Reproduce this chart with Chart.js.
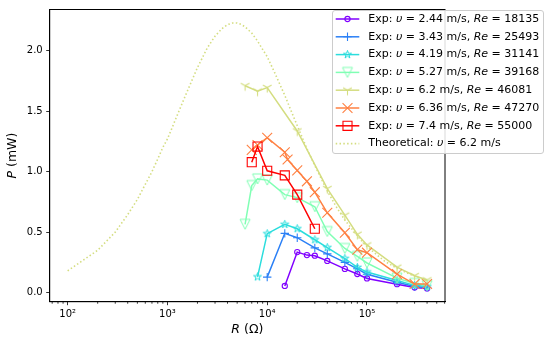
<!DOCTYPE html>
<html><head><meta charset="utf-8">
<script src="https://cdn.jsdelivr.net/npm/chart.js@4/dist/chart.umd.min.js"></script>
<style>html,body{margin:0;padding:0;background:#fff}#wrap{position:relative;width:550px;height:342px}</style>
</head><body><div id="wrap"><canvas id="c" width="550" height="342"></canvas></div>
<script>
// ---------- data ----------
const velocities = ["2.44", "3.43", "4.19", "5.27", "6.2", "6.36", "7.4"];
const reynolds = ["18135", "25493", "31141", "39168", "46081", "47270", "55000"];
const theoVelocity = "6.2";

const R_244 = [15000, 20000, 25000, 30000, 40000, 60000, 80000, 100000, 200000, 300000, 400000];
const P_244 = [0.055, 0.335, 0.31, 0.305, 0.262, 0.196, 0.154, 0.117, 0.07, 0.042, 0.035];

const R_343 = [10000, 15000, 20000, 30000, 40000, 60000, 80000, 100000, 200000, 300000, 400000];
const P_343 = [0.128, 0.49, 0.454, 0.37, 0.32, 0.25, 0.197, 0.152, 0.085, 0.05, 0.043];

const R_419 = [8000, 10000, 15000, 20000, 30000, 40000, 60000, 80000, 100000, 200000, 300000, 400000];
const P_419 = [0.13, 0.487, 0.564, 0.528, 0.437, 0.372, 0.282, 0.208, 0.17, 0.1, 0.06, 0.05];

const R_527 = [6000, 7000, 8000, 10000, 15000, 20000, 30000, 40000, 60000, 80000, 100000, 200000, 300000, 400000];
const P_527 = [0.565, 0.885, 0.94, 0.93, 0.81, 0.785, 0.71, 0.505, 0.365, 0.30, 0.245, 0.12, 0.076, 0.058];

const R_620 = [6000, 8000, 10000, 20000, 40000, 60000, 80000, 100000, 200000, 300000, 400000];
const P_620 = [1.71, 1.665, 1.695, 1.336, 0.86, 0.64, 0.482, 0.394, 0.21, 0.14, 0.105];

const R_636 = [7000, 8000, 10000, 15000, 16000, 20000, 25000, 30000, 40000, 60000, 80000, 100000, 200000, 300000, 400000];
const P_636 = [1.18, 1.22, 1.28, 1.16, 1.10, 1.01, 0.92, 0.83, 0.66, 0.495, 0.355, 0.33, 0.153, 0.071, 0.071];

const R_740 = [7000, 8000, 10000, 15000, 20000, 30000];
const P_740 = [1.078, 1.207, 1.007, 0.969, 0.81, 0.528];

const R_theo = [100, 200, 300, 400, 500, 600, 700, 800, 900, 1000, 1500, 2000, 2500, 3000, 3500, 4000, 4500, 5000, 5500, 6000, 7000, 8000, 9000, 10000, 12000, 15000, 20000, 25000, 30000, 40000, 50000, 60000, 70000, 80000, 90000, 100000, 150000, 200000, 300000, 400000];
const P_theo = [0.18, 0.35, 0.50, 0.645, 0.77, 0.895, 1.0, 1.105, 1.2, 1.27, 1.62, 1.86, 2.02, 2.12, 2.18, 2.215, 2.228, 2.228, 2.216, 2.197, 2.145, 2.08, 2.01, 1.95, 1.81, 1.63, 1.38, 1.19, 1.05, 0.84, 0.70, 0.60, 0.53, 0.47, 0.42, 0.38, 0.26, 0.20, 0.135, 0.10];

const yTickValues = [0, 0.5, 1.0, 1.5, 2.0];
const yTickLabels = ["0.0", "0.5", "1.0", "1.5", "2.0"];
const xMajorValues = [100, 1000, 10000, 100000];
const xMajorLabels = ["10\u00B2", "10\u00B3", "10\u2074", "10\u2075"];
const xLabelText = ["R", " (\u03A9)"];
const yLabelText = ["P", " (mW)"];

// ---------- styles ----------
const colors = ["#8000ff", "#2b80f6", "#2bdddd", "#80ffb4", "#d4dd80", "#ff8042", "#ff0000"];
const theoColor = "#d4dd80";
const FONT = "'DejaVu Sans', 'Liberation Sans', sans-serif";

function mk(size, draw) {
  const c = document.createElement('canvas');
  c.width = size; c.height = size;
  const g = c.getContext('2d');
  draw(g, size / 2);
  return c;
}
function starCanvas(color) {
  return mk(11, (g, c) => {
    g.strokeStyle = color; g.lineWidth = 1; g.lineJoin = 'miter';
    const ro = 4.2, ri = ro * 0.382;
    g.beginPath();
    for (let k = 0; k < 10; k++) {
      const r = k % 2 ? ri : ro;
      const a = -Math.PI / 2 + k * Math.PI / 5;
      const px = c + r * Math.cos(a), py = c + r * Math.sin(a);
      k ? g.lineTo(px, py) : g.moveTo(px, py);
    }
    g.closePath(); g.stroke();
  });
}
function triDownCanvas(color) {
  return mk(13, (g, c) => {
    g.strokeStyle = color; g.lineWidth = 1.1;
    const r = 5;
    g.beginPath();
    g.moveTo(c, c); g.lineTo(c, c + r);
    g.moveTo(c, c); g.lineTo(c - r * 0.866, c - r * 0.5);
    g.moveTo(c, c); g.lineTo(c + r * 0.866, c - r * 0.5);
    g.stroke();
  });
}
function triangleDownCanvas(color) {
  return mk(14, (g, c) => {
    g.strokeStyle = color; g.lineWidth = 1;
    const r = 5;
    g.beginPath();
    g.moveTo(c - r, c - r); g.lineTo(c + r, c - r); g.lineTo(c, c + r); g.closePath();
    g.stroke();
  });
}

const markerSpecs = [
  {style: 'circle', radius: 2.6},
  {style: 'cross', radius: 4.2},
  {style: starCanvas(colors[2]), radius: 4},
  {style: triangleDownCanvas(colors[3]), radius: 5},
  {style: triDownCanvas(colors[4]), radius: 5},
  {style: 'crossRot', radius: 7},
  {style: 'rect', radius: 6.4}
];

const seriesR = [R_244, R_343, R_419, R_527, R_620, R_636, R_740];
const seriesP = [P_244, P_343, P_419, P_527, P_620, P_636, P_740];

const datasets = seriesR.map((Rs, i) => ({
  label: 'Exp: \u03C5 = ' + velocities[i] + ' m/s, Re = ' + reynolds[i],
  data: Rs.map((r, j) => ({x: r, y: seriesP[i][j]})),
  borderColor: colors[i],
  backgroundColor: 'rgba(0,0,0,0)',
  borderWidth: 1.5,
  pointStyle: markerSpecs[i].style,
  pointRadius: markerSpecs[i].radius,
  pointBorderWidth: 1.1,
  pointBorderColor: colors[i],
  pointBackgroundColor: 'rgba(0,0,0,0)',
  order: 20 - i,
  segText: [['Exp: ', false], ['\u03C5', true], [' = ' + velocities[i] + ' m/s, ', false], ['Re', true], [' = ' + reynolds[i], false]]
}));
datasets.push({
  label: 'Theoretical: \u03C5 = ' + theoVelocity + ' m/s',
  data: R_theo.map((r, j) => ({x: r, y: P_theo[j]})),
  borderColor: theoColor,
  backgroundColor: 'rgba(0,0,0,0)',
  borderWidth: 1.6,
  borderDash: [1.5, 2.3],
  pointRadius: 0,
  order: 1,
  segText: [['Theoretical: ', false], ['\u03C5', true], [' = ' + theoVelocity + ' m/s', false]]
});

// x ticks: majors plus minors 2..9 x 10^n
const xMin = 66.1, xMax = 6.05e5;
const xTicks = [];
for (let e = 1; e <= 5; e++) {
  for (let m = 1; m <= 9; m++) {
    const v = m * Math.pow(10, e);
    if (v >= xMin && v <= xMax) xTicks.push(v);
  }
}
function isMajor(v) { return xMajorValues.some(m => Math.abs(m - v) < 1e-6 * m); }

// ---------- plugins ----------
const framePlugin = {
  id: 'frame',
  afterDraw(chart) {
    const {ctx, chartArea: a, scales} = chart;
    ctx.save();
    ctx.strokeStyle = '#000'; ctx.lineWidth = 0.8;
    ctx.beginPath();
    xTicks.forEach(v => {
      if (isMajor(v)) return;
      const px = scales.x.getPixelForValue(v);
      ctx.moveTo(px, a.bottom); ctx.lineTo(px, a.bottom + 2);
    });
    ctx.stroke();
    ctx.lineWidth = 1; ctx.strokeStyle = '#000';
    ctx.strokeRect(a.left, a.top, a.right - a.left, a.bottom - a.top);
    ctx.fillStyle = '#000';
    ctx.textBaseline = 'middle';
    const drawSegs = (segs, x, y, size) => {
      let w = 0;
      const parts = segs.map(([t, it]) => {
        ctx.font = (it ? 'italic ' : '') + size + 'px ' + FONT;
        const mw = ctx.measureText(t).width; w += mw; return [t, it, mw];
      });
      let cx = x - w / 2;
      parts.forEach(([t, it, mw]) => {
        ctx.font = (it ? 'italic ' : '') + size + 'px ' + FONT;
        ctx.textAlign = 'left';
        ctx.fillText(t, cx, y); cx += mw;
      });
    };
    drawSegs([[xLabelText[0], true], [xLabelText[1], false]], (a.left + a.right) / 2, 330, 12.5);
    ctx.save();
    ctx.translate(12.8, (a.top + a.bottom) / 2);
    ctx.rotate(-Math.PI / 2);
    drawSegs([[yLabelText[0], true], [yLabelText[1], false]], 0, 0, 12.5);
    ctx.restore();
    ctx.restore();
  }
};

const legendPlugin = {
  id: 'mplLegend',
  afterDraw(chart) {
    const ctx = chart.ctx;
    ctx.save();
    const bx = 332.5, by = 10.5, bw = 211, bh = 143, rr = 2.5;
    ctx.beginPath();
    ctx.moveTo(bx + rr, by);
    ctx.arcTo(bx + bw, by, bx + bw, by + bh, rr);
    ctx.arcTo(bx + bw, by + bh, bx, by + bh, rr);
    ctx.arcTo(bx, by + bh, bx, by, rr);
    ctx.arcTo(bx, by, bx + bw, by, rr);
    ctx.closePath();
    ctx.fillStyle = 'rgba(255,255,255,0.85)';
    ctx.fill();
    ctx.strokeStyle = '#cccccc'; ctx.lineWidth = 1;
    ctx.stroke();
    chart.data.datasets.forEach((ds, i) => {
      const y = 19 + i * 17.8;
      ctx.strokeStyle = ds.borderColor;
      ctx.lineWidth = ds.borderWidth;
      ctx.setLineDash(ds.borderDash || []);
      ctx.beginPath(); ctx.moveTo(335.7, y); ctx.lineTo(359.3, y); ctx.stroke();
      ctx.setLineDash([]);
      if (ds.pointRadius > 0 && Chart.helpers && Chart.helpers.drawPoint) {
        ctx.strokeStyle = ds.pointBorderColor;
        ctx.fillStyle = 'rgba(0,0,0,0)';
        ctx.lineWidth = ds.pointBorderWidth;
        Chart.helpers.drawPoint(ctx, {pointStyle: ds.pointStyle, radius: ds.pointRadius, rotation: 0, borderWidth: ds.pointBorderWidth}, 347.5, y);
      }
      ctx.fillStyle = '#000';
      ctx.textBaseline = 'middle';
      ctx.textAlign = 'left';
      let x = 368.3;
      ds.segText.forEach(([t, it]) => {
        ctx.font = (it ? 'italic ' : '') + '11px ' + FONT;
        ctx.fillText(t, x, y);
        x += ctx.measureText(t).width;
      });
    });
    ctx.restore();
  }
};

new Chart(document.getElementById('c').getContext('2d'), {
  type: 'line',
  data: {datasets},
  options: {
    responsive: false,
    animation: false,
    events: [],
    layout: {padding: {left: 0, top: 5.7, right: 105, bottom: 0}},
    plugins: {legend: {display: false}, tooltip: {enabled: false}},
    scales: {
      x: {
        type: 'logarithmic', min: xMin, max: xMax, position: 'bottom',
        afterBuildTicks: s => { s.ticks = xTicks.map(v => ({value: v, major: isMajor(v)})); },
        afterFit: s => { s.height = 40.3; },
        ticks: {
          autoSkip: false, maxRotation: 0, minRotation: 0, padding: 3,
          color: '#000', font: {family: FONT, size: 10},
          callback: (v) => { const k = xMajorValues.findIndex(m => Math.abs(m - v) < 1e-6 * m); return k >= 0 ? xMajorLabels[k] : ''; }
        },
        grid: {drawOnChartArea: false, drawTicks: true, tickLength: 3.5, tickWidth: 0.8,
               tickColor: c => (c.tick && isMajor(c.tick.value)) ? '#000' : 'rgba(0,0,0,0)'},
        border: {display: true, color: '#000', width: 1}
      },
      y: {
        type: 'linear', min: -0.075, max: 2.34, position: 'left',
        afterBuildTicks: s => { s.ticks = yTickValues.map(v => ({value: v})); },
        afterFit: s => { s.width = 49.7; },
        ticks: {
          autoSkip: false, padding: 3.5, color: '#000', font: {family: FONT, size: 10},
          callback: (v) => { const k = yTickValues.findIndex(t => Math.abs(t - v) < 1e-9); return k >= 0 ? yTickLabels[k] : ''; }
        },
        grid: {drawOnChartArea: false, drawTicks: true, tickLength: 3.5, tickWidth: 0.8, tickColor: '#000'},
        border: {display: true, color: '#000', width: 1}
      }
    }
  },
  plugins: [framePlugin, legendPlugin]
});
</script>
</body></html>
